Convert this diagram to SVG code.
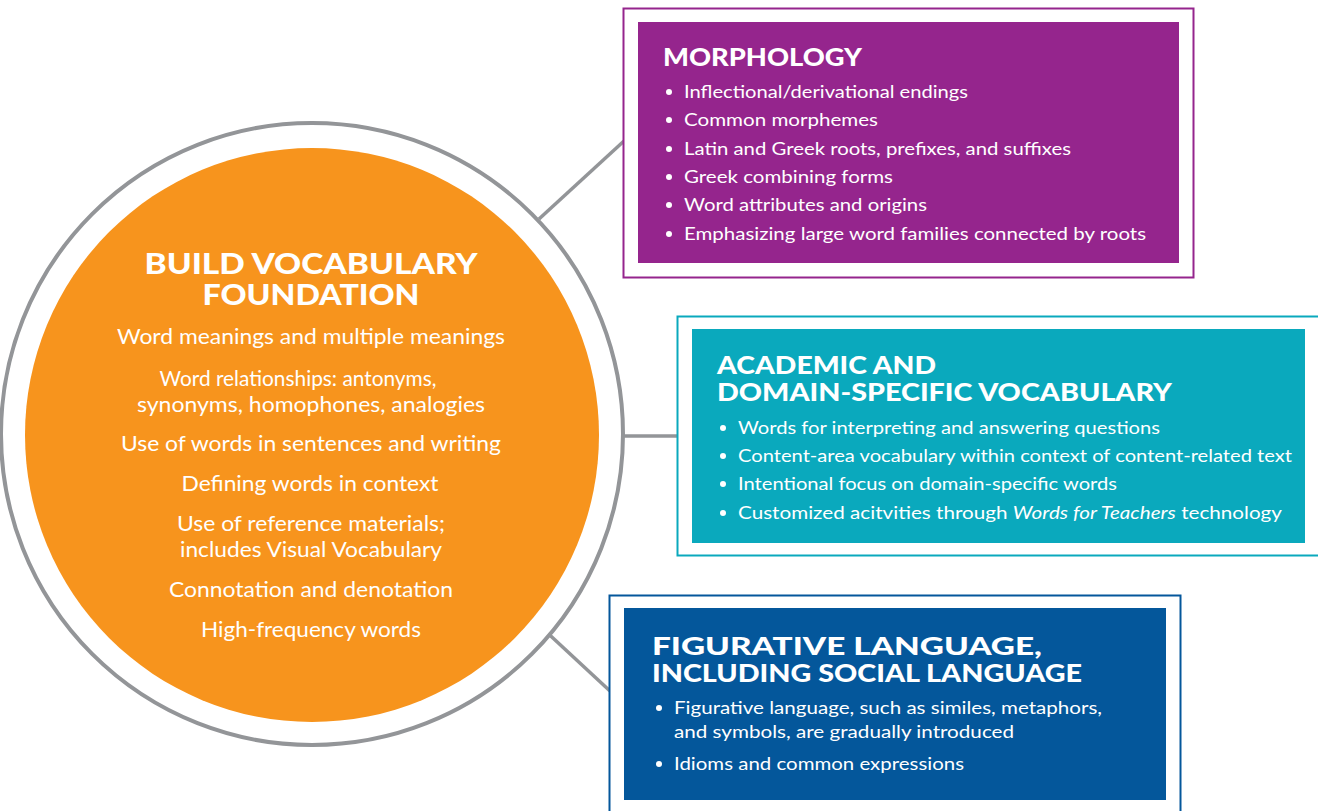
<svg xmlns="http://www.w3.org/2000/svg" width="1318" height="811" viewBox="0 0 1318 811">
<style>
.title{font-family:"Lato","Open Sans",sans-serif;font-weight:900;fill:#fff;}
.body{font-family:"Lato","Open Sans",sans-serif;fill:#fff;}
.circ{font-size:20.5px;text-anchor:middle;}
.box{font-size:18px;}
.conn{stroke:#939598;stroke-width:3.5;fill:none;}
.bul{fill:#fff;}
</style>
<rect width="1318" height="811" fill="#fff"/>
<g id="connectors">
<line class="conn" x1="539" y1="219" x2="624" y2="141"/>
<line class="conn" x1="616" y1="436" x2="678" y2="436"/>
<line class="conn" x1="540" y1="626" x2="610" y2="691"/>
</g>
<g id="center">
<circle cx="312" cy="434" r="311" fill="#fff" stroke="#939598" stroke-width="4"/>
<circle cx="312" cy="435" r="287" fill="#F7941D"/>
<text class="title" font-size="28" text-anchor="middle"><tspan x="311" y="274" textLength="333" lengthAdjust="spacingAndGlyphs">BUILD VOCABULARY</tspan><tspan x="311" y="305" textLength="217" lengthAdjust="spacingAndGlyphs">FOUNDATION</tspan></text>
<text class="body circ" x="311" y="344" textLength="388" lengthAdjust="spacingAndGlyphs">Word meanings and multiple meanings</text>
<text class="body circ" x="298" y="386" textLength="277" lengthAdjust="spacingAndGlyphs">Word relationships: antonyms,</text>
<text class="body circ" x="311" y="412" textLength="348" lengthAdjust="spacingAndGlyphs">synonyms, homophones, analogies</text>
<text class="body circ" x="311" y="451" textLength="380" lengthAdjust="spacingAndGlyphs">Use of words in sentences and writing</text>
<text class="body circ" x="310" y="491" textLength="257" lengthAdjust="spacingAndGlyphs">Defining words in context</text>
<text class="body circ" x="311" y="531" textLength="268" lengthAdjust="spacingAndGlyphs">Use of reference materials;</text>
<text class="body circ" x="311" y="557" textLength="262" lengthAdjust="spacingAndGlyphs">includes Visual Vocabulary</text>
<text class="body circ" x="311" y="597" textLength="284" lengthAdjust="spacingAndGlyphs">Connotation and denotation</text>
<text class="body circ" x="311" y="637" textLength="220" lengthAdjust="spacingAndGlyphs">High-frequency words</text>
</g>
<g id="morphology">
<rect x="623.5" y="8.5" width="570" height="269" fill="#fff" stroke="#95258D" stroke-width="2"/>
<rect x="638" y="22" width="541" height="241" fill="#95258D"/>
<text class="title" x="663" y="66" font-size="24" textLength="199" lengthAdjust="spacingAndGlyphs">MORPHOLOGY</text>
<circle class="bul" cx="669" cy="92" r="3"/>
<circle class="bul" cx="669" cy="120" r="3"/>
<circle class="bul" cx="669" cy="149" r="3"/>
<circle class="bul" cx="669" cy="177" r="3"/>
<circle class="bul" cx="669" cy="205" r="3"/>
<circle class="bul" cx="669" cy="234" r="3"/>
<text class="body box" x="684" y="98" textLength="284" lengthAdjust="spacingAndGlyphs">Inflectional/derivational endings</text>
<text class="body box" x="684" y="126" textLength="194" lengthAdjust="spacingAndGlyphs">Common morphemes</text>
<text class="body box" x="684" y="155" textLength="387" lengthAdjust="spacingAndGlyphs">Latin and Greek roots, prefixes, and suffixes</text>
<text class="body box" x="684" y="183" textLength="209" lengthAdjust="spacingAndGlyphs">Greek combining forms</text>
<text class="body box" x="684" y="211" textLength="243" lengthAdjust="spacingAndGlyphs">Word attributes and origins</text>
<text class="body box" x="684" y="240" textLength="462" lengthAdjust="spacingAndGlyphs">Emphasizing large word families connected by roots</text>
</g>
<g id="academic">
<rect x="677.5" y="316.5" width="650" height="239" fill="#fff" stroke="#0AA9BD" stroke-width="2"/>
<rect x="692" y="329" width="613" height="214" fill="#0AA9BD"/>
<text class="title" font-size="24"><tspan x="717" y="374" textLength="219" lengthAdjust="spacingAndGlyphs">ACADEMIC AND</tspan><tspan x="717" y="401" textLength="455" lengthAdjust="spacingAndGlyphs">DOMAIN-SPECIFIC VOCABULARY</tspan></text>
<circle class="bul" cx="723" cy="428" r="3"/>
<circle class="bul" cx="723" cy="456" r="3"/>
<circle class="bul" cx="723" cy="484" r="3"/>
<circle class="bul" cx="723" cy="513" r="3"/>
<text class="body box" x="738" y="434" textLength="422" lengthAdjust="spacingAndGlyphs">Words for interpreting and answering questions</text>
<text class="body box" x="738" y="462" textLength="554" lengthAdjust="spacingAndGlyphs">Content-area vocabulary within context of content-related text</text>
<text class="body box" x="738" y="490" textLength="379" lengthAdjust="spacingAndGlyphs">Intentional focus on domain-specific words</text>
<text class="body box" x="738" y="519" textLength="544" lengthAdjust="spacingAndGlyphs">Customized acitvities through <tspan font-style="italic">Words for Teachers</tspan> technology</text>
</g>
<g id="figurative">
<rect x="609.5" y="595.5" width="571" height="230" fill="#fff" stroke="#04579B" stroke-width="2"/>
<rect x="624" y="608" width="542" height="192" fill="#04579B"/>
<text class="title" font-size="24"><tspan x="652" y="655" textLength="390" lengthAdjust="spacingAndGlyphs">FIGURATIVE LANGUAGE,</tspan><tspan x="652" y="682" textLength="430" lengthAdjust="spacingAndGlyphs">INCLUDING SOCIAL LANGUAGE</tspan></text>
<circle class="bul" cx="659" cy="708" r="3"/>
<circle class="bul" cx="659" cy="764" r="3"/>
<text class="body box" x="674" y="714" textLength="428" lengthAdjust="spacingAndGlyphs">Figurative language, such as similes, metaphors,</text>
<text class="body box" x="674" y="738" textLength="340" lengthAdjust="spacingAndGlyphs">and symbols, are gradually introduced</text>
<text class="body box" x="674" y="770" textLength="290" lengthAdjust="spacingAndGlyphs">Idioms and common expressions</text>
</g>
</svg>
